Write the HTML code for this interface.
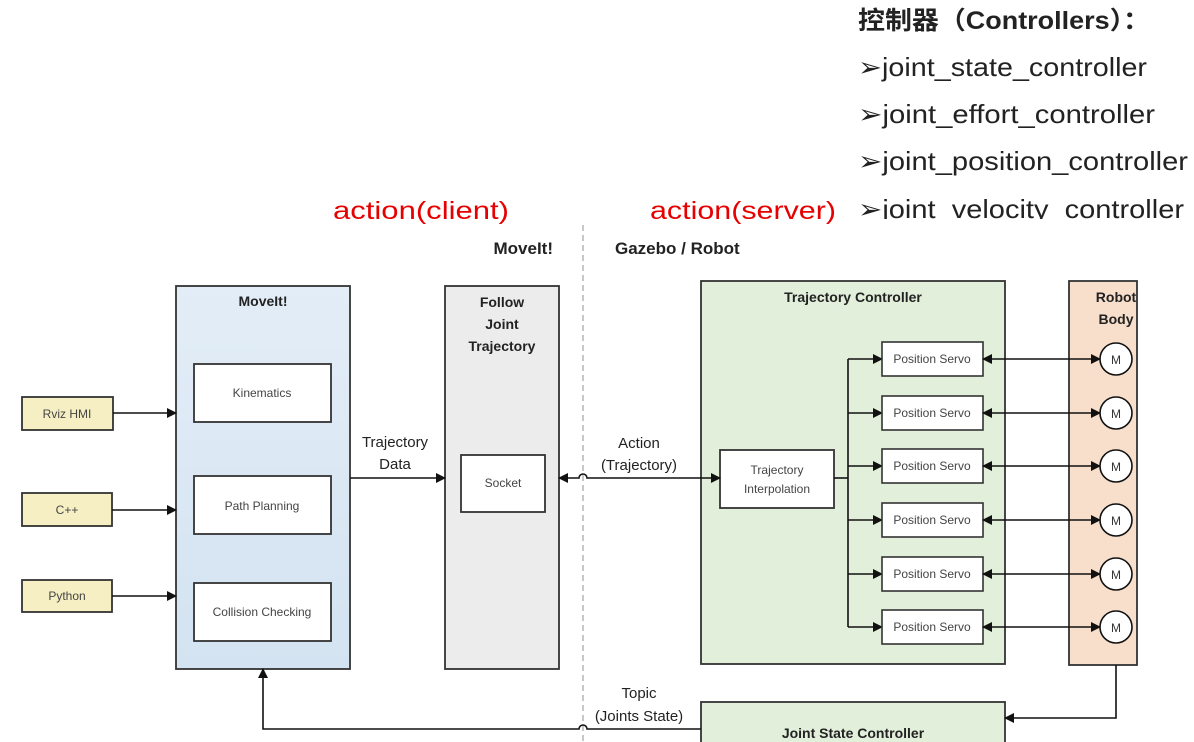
<!DOCTYPE html>
<html><head><meta charset="utf-8"><style>body{margin:0;background:#fff}svg{display:block}</style></head><body>
<svg width="1194" height="742" viewBox="0 0 1194 742" xmlns="http://www.w3.org/2000/svg" font-family="Liberation Sans, sans-serif">
<defs>
<marker id="a" markerWidth="10" markerHeight="10" refX="9" refY="5" orient="auto" markerUnits="userSpaceOnUse"><path d="M0,0 L10,5 L0,10 z" fill="#111"/></marker>
<marker id="b" markerWidth="10" markerHeight="10" refX="1" refY="5" orient="auto" markerUnits="userSpaceOnUse"><path d="M10,0 L0,5 L10,10 z" fill="#111"/></marker>
<linearGradient id="gb" x1="0" y1="0" x2="0" y2="1"><stop offset="0" stop-color="#e3edf7"/><stop offset="1" stop-color="#d3e3f1"/></linearGradient>
</defs>
<g font-family="Liberation Sans, Noto Sans CJK SC, sans-serif" fill="#222">
<text x="858" y="29" font-size="25" font-weight="bold" textLength="292" lengthAdjust="spacingAndGlyphs">控制器（Controllers）：</text>
<text x="858" y="76" font-size="26" textLength="289" lengthAdjust="spacingAndGlyphs">➢joint_state_controller</text>
<text x="858" y="123" font-size="26" textLength="297" lengthAdjust="spacingAndGlyphs">➢joint_effort_controller</text>
<text x="858" y="170" font-size="26" textLength="330" lengthAdjust="spacingAndGlyphs">➢joint_position_controller</text>
<text x="858" y="218" font-size="26" textLength="326" lengthAdjust="spacingAndGlyphs">➢joint_velocity_controller</text>
</g>
<rect x="850" y="219" width="344" height="12" fill="#fff"/>
<text x="333" y="219" font-size="25" fill="#e60000" textLength="176" lengthAdjust="spacingAndGlyphs">action(client)</text>
<text x="650" y="219" font-size="25" fill="#e60000" textLength="186" lengthAdjust="spacingAndGlyphs">action(server)</text>
<text x="553" y="254" font-size="17" font-weight="bold" text-anchor="end" fill="#222">MoveIt!</text>
<text x="615" y="254" font-size="17" font-weight="bold" fill="#222">Gazebo / Robot</text>
<line x1="583" y1="225" x2="583" y2="742" stroke="#aaa" stroke-dasharray="6,4" stroke-width="1.3"/>
<g stroke="#333" stroke-width="1.8">
<rect x="176" y="286" width="174" height="383" fill="url(#gb)"/>
<rect x="445" y="286" width="114" height="383" fill="#ececec"/>
<rect x="701" y="281" width="304" height="383" fill="#e2efda"/>
<rect x="1069" y="281" width="68" height="384" fill="#f8dfcc"/>
<rect x="701" y="702" width="304" height="60" fill="#e2efda"/>
<rect x="194" y="364" width="137" height="58" fill="#fff"/>
<rect x="194" y="476" width="137" height="58" fill="#fff"/>
<rect x="194" y="583" width="137" height="58" fill="#fff"/>
<rect x="22" y="397" width="91" height="33" fill="#f7efc4"/>
<rect x="22" y="493" width="90" height="33" fill="#f7efc4"/>
<rect x="22" y="580" width="90" height="32" fill="#f7efc4"/>
<rect x="461" y="455" width="84" height="57" fill="#fff"/>
<rect x="720" y="450" width="114" height="58" fill="#fff"/>
</g>
<g stroke="#111" stroke-width="1.6" fill="none">
<line x1="113" y1="413" x2="176" y2="413" marker-end="url(#a)"/>
<line x1="112" y1="510" x2="176" y2="510" marker-end="url(#a)"/>
<line x1="112" y1="596" x2="176" y2="596" marker-end="url(#a)"/>
<line x1="350" y1="478" x2="445" y2="478" marker-end="url(#a)"/>
<path d="M559,478 H579 a4,4 0 0 1 8,0 H720" marker-start="url(#b)" marker-end="url(#a)"/>
<path d="M701,729 H587 a4,4 0 0 0 -8,0 H263 V669" marker-end="url(#a)"/>
<path d="M1116,665 V718 H1005" marker-end="url(#a)"/>
<line x1="834" y1="478" x2="848" y2="478"/>
<line x1="848" y1="359" x2="848" y2="627"/>
</g>
<g font-size="12" fill="#444" text-anchor="middle">
<text x="67" y="418">Rviz HMI</text><text x="67" y="514">C++</text><text x="67" y="600">Python</text>
<text x="262" y="397">Kinematics</text><text x="262" y="510">Path Planning</text><text x="262" y="616">Collision Checking</text>
<text x="503" y="487">Socket</text>
<text x="777" y="474">Trajectory</text><text x="777" y="493">Interpolation</text>
</g>
<g font-size="15" fill="#222" text-anchor="middle">
<text x="395" y="447">Trajectory</text><text x="395" y="469">Data</text>
<text x="639" y="448">Action</text><text x="639" y="470">(Trajectory)</text>
<text x="639" y="698">Topic</text><text x="639" y="721">(Joints State)</text>
</g>
<g font-size="14" font-weight="bold" fill="#222" text-anchor="middle">
<text x="263" y="306">MoveIt!</text>
<text x="502" y="307">Follow</text><text x="502" y="329">Joint</text><text x="502" y="351">Trajectory</text>
<text x="853" y="302">Trajectory Controller</text>
<text x="1116" y="302">Robot</text><text x="1116" y="324">Body</text>
<text x="853" y="738">Joint State Controller</text>
</g>
<g stroke="#111" stroke-width="1.6" fill="#fff" font-size="12">
<g transform="translate(0,359)"><line x1="848" y1="0" x2="882" y2="0" marker-end="url(#a)" fill="none"/><rect x="882" y="-17" width="101" height="34" stroke="#333"/><line x1="983" y1="0" x2="1100" y2="0" marker-start="url(#b)" marker-end="url(#a)"/><circle cx="1116" cy="0" r="16"/><text x="932" y="4" text-anchor="middle" stroke="none" fill="#444">Position Servo</text><text x="1116" y="5" text-anchor="middle" stroke="none" fill="#333">M</text></g>
<g transform="translate(0,413)"><line x1="848" y1="0" x2="882" y2="0" marker-end="url(#a)" fill="none"/><rect x="882" y="-17" width="101" height="34" stroke="#333"/><line x1="983" y1="0" x2="1100" y2="0" marker-start="url(#b)" marker-end="url(#a)"/><circle cx="1116" cy="0" r="16"/><text x="932" y="4" text-anchor="middle" stroke="none" fill="#444">Position Servo</text><text x="1116" y="5" text-anchor="middle" stroke="none" fill="#333">M</text></g>
<g transform="translate(0,466)"><line x1="848" y1="0" x2="882" y2="0" marker-end="url(#a)" fill="none"/><rect x="882" y="-17" width="101" height="34" stroke="#333"/><line x1="983" y1="0" x2="1100" y2="0" marker-start="url(#b)" marker-end="url(#a)"/><circle cx="1116" cy="0" r="16"/><text x="932" y="4" text-anchor="middle" stroke="none" fill="#444">Position Servo</text><text x="1116" y="5" text-anchor="middle" stroke="none" fill="#333">M</text></g>
<g transform="translate(0,520)"><line x1="848" y1="0" x2="882" y2="0" marker-end="url(#a)" fill="none"/><rect x="882" y="-17" width="101" height="34" stroke="#333"/><line x1="983" y1="0" x2="1100" y2="0" marker-start="url(#b)" marker-end="url(#a)"/><circle cx="1116" cy="0" r="16"/><text x="932" y="4" text-anchor="middle" stroke="none" fill="#444">Position Servo</text><text x="1116" y="5" text-anchor="middle" stroke="none" fill="#333">M</text></g>
<g transform="translate(0,574)"><line x1="848" y1="0" x2="882" y2="0" marker-end="url(#a)" fill="none"/><rect x="882" y="-17" width="101" height="34" stroke="#333"/><line x1="983" y1="0" x2="1100" y2="0" marker-start="url(#b)" marker-end="url(#a)"/><circle cx="1116" cy="0" r="16"/><text x="932" y="4" text-anchor="middle" stroke="none" fill="#444">Position Servo</text><text x="1116" y="5" text-anchor="middle" stroke="none" fill="#333">M</text></g>
<g transform="translate(0,627)"><line x1="848" y1="0" x2="882" y2="0" marker-end="url(#a)" fill="none"/><rect x="882" y="-17" width="101" height="34" stroke="#333"/><line x1="983" y1="0" x2="1100" y2="0" marker-start="url(#b)" marker-end="url(#a)"/><circle cx="1116" cy="0" r="16"/><text x="932" y="4" text-anchor="middle" stroke="none" fill="#444">Position Servo</text><text x="1116" y="5" text-anchor="middle" stroke="none" fill="#333">M</text></g>
</g>
</svg>
</body></html>
